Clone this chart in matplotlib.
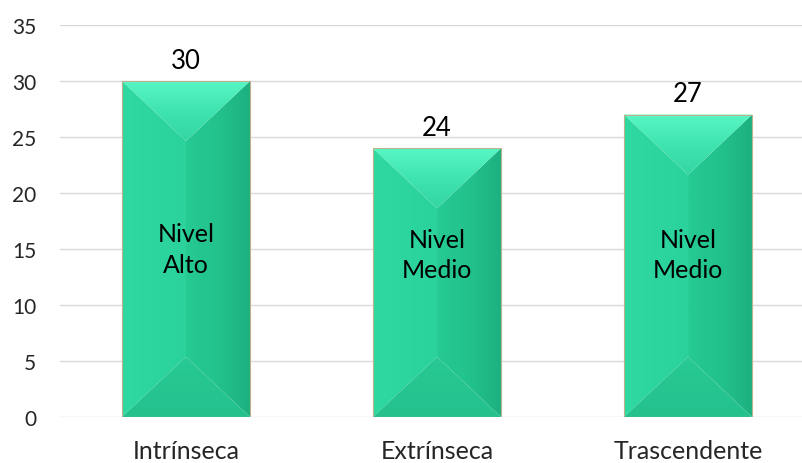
import matplotlib

matplotlib.use("Agg")
import matplotlib.pyplot as plt
import numpy as np
from matplotlib.colors import LinearSegmentedColormap
from matplotlib.patches import Polygon

categories = ["Intrínseca", "Extrínseca", "Trascendente"]
values = [30, 24, 27]
inner_labels = ["Nivel\nAlto", "Nivel\nMedio", "Nivel\nMedio"]
inner_label_y = [15.0, 14.5, 14.5]
y_ticks = [0, 5, 10, 15, 20, 25, 30, 35]

plt.rcParams["font.family"] = ["Lato", "DejaVu Sans"]

BAR_WIDTH = 0.51
TEXT_COLOR = "#000000"
TICK_COLOR = "#262626"


def gradient_face(axis, vertices, colors, direction, zorder):
    poly = Polygon(vertices, closed=True, facecolor="none", edgecolor="none")
    axis.add_patch(poly)
    xs = [v[0] for v in vertices]
    ys = [v[1] for v in vertices]
    cmap = LinearSegmentedColormap.from_list("face", colors)
    ramp = np.linspace(0, 1, 256)
    data = ramp[:, None] if direction == "vertical" else ramp[None, :]
    image = axis.imshow(
        data,
        cmap=cmap,
        extent=[min(xs), max(xs), min(ys), max(ys)],
        origin="lower",
        aspect="auto",
        interpolation="bilinear",
        zorder=zorder,
    )
    image.set_clip_path(poly)


def draw_bevel_bar(axis, x, height, width, depth):
    left, right = x - width / 2, x + width / 2
    top_apex = (x, height - depth)
    bottom_apex = (x, depth)
    # left face, lighter
    gradient_face(
        axis,
        [(left, 0), (left, height), top_apex, bottom_apex],
        ["#2FD9A1", "#2BD29C"],
        "horizontal",
        2,
    )
    # right face, darker toward the edge
    gradient_face(
        axis,
        [(right, 0), (right, height), top_apex, bottom_apex],
        ["#26CA93", "#22C28C", "#1DB080"],
        "horizontal",
        2,
    )
    # top bevel, bright highlight at the top edge
    gradient_face(
        axis,
        [(left, height), (right, height), top_apex],
        ["#33D6A2", "#40E4B0", "#58F7C6"],
        "vertical",
        3,
    )
    # bottom bevel
    gradient_face(
        axis,
        [(left, 0), (right, 0), bottom_apex],
        ["#24C18D", "#28C994"],
        "vertical",
        3,
    )
    axis.add_patch(
        Polygon(
            [(left, 0), (left, height), (right, height), (right, 0)],
            closed=True,
            facecolor="none",
            edgecolor="#B9B48C",
            linewidth=0.8,
            zorder=4,
        )
    )


figure = plt.figure(figsize=(8.02, 4.64), dpi=100)
axis = figure.add_axes([60 / 802, 46 / 464, 742 / 802, 392 / 464])
positions = np.arange(len(categories))
axis.set_xlim(-0.502, 2.454)
axis.set_ylim(0, 35)

for y in y_ticks:
    axis.axhline(y, color="#D9D9D9", linewidth=1.0, zorder=1)

x0, y0 = axis.transData.transform((0, 0))
x1, y1 = axis.transData.transform((1, 1))
px_per_x = x1 - x0
px_per_y = y1 - y0
depth = (BAR_WIDTH / 2 * px_per_x) / px_per_y * 0.94

for pos, value, label, label_y in zip(positions, values, inner_labels, inner_label_y):
    draw_bevel_bar(axis, pos, value, BAR_WIDTH, depth)
    axis.annotate(
        f"{value}",
        (pos, value),
        xytext=(0, 6),
        textcoords="offset points",
        ha="center",
        va="bottom",
        fontsize=18.5,
        color=TEXT_COLOR,
        zorder=5,
    )
    axis.text(
        pos,
        label_y,
        label,
        ha="center",
        va="center",
        fontsize=18,
        color=TEXT_COLOR,
        linespacing=1.4,
        zorder=5,
    )

axis.set_xlim(-0.502, 2.454)
axis.set_ylim(0, 35)
axis.set_xticks(positions)
axis.set_xticklabels(categories)
axis.set_yticks(y_ticks)
axis.tick_params(axis="both", length=0, colors=TICK_COLOR)
axis.tick_params(axis="y", pad=17, labelsize=15)
axis.tick_params(axis="x", pad=16, labelsize=18)
for spine in axis.spines.values():
    spine.set_visible(False)

figure.savefig("out.png", dpi=100)
plt.close(figure)
